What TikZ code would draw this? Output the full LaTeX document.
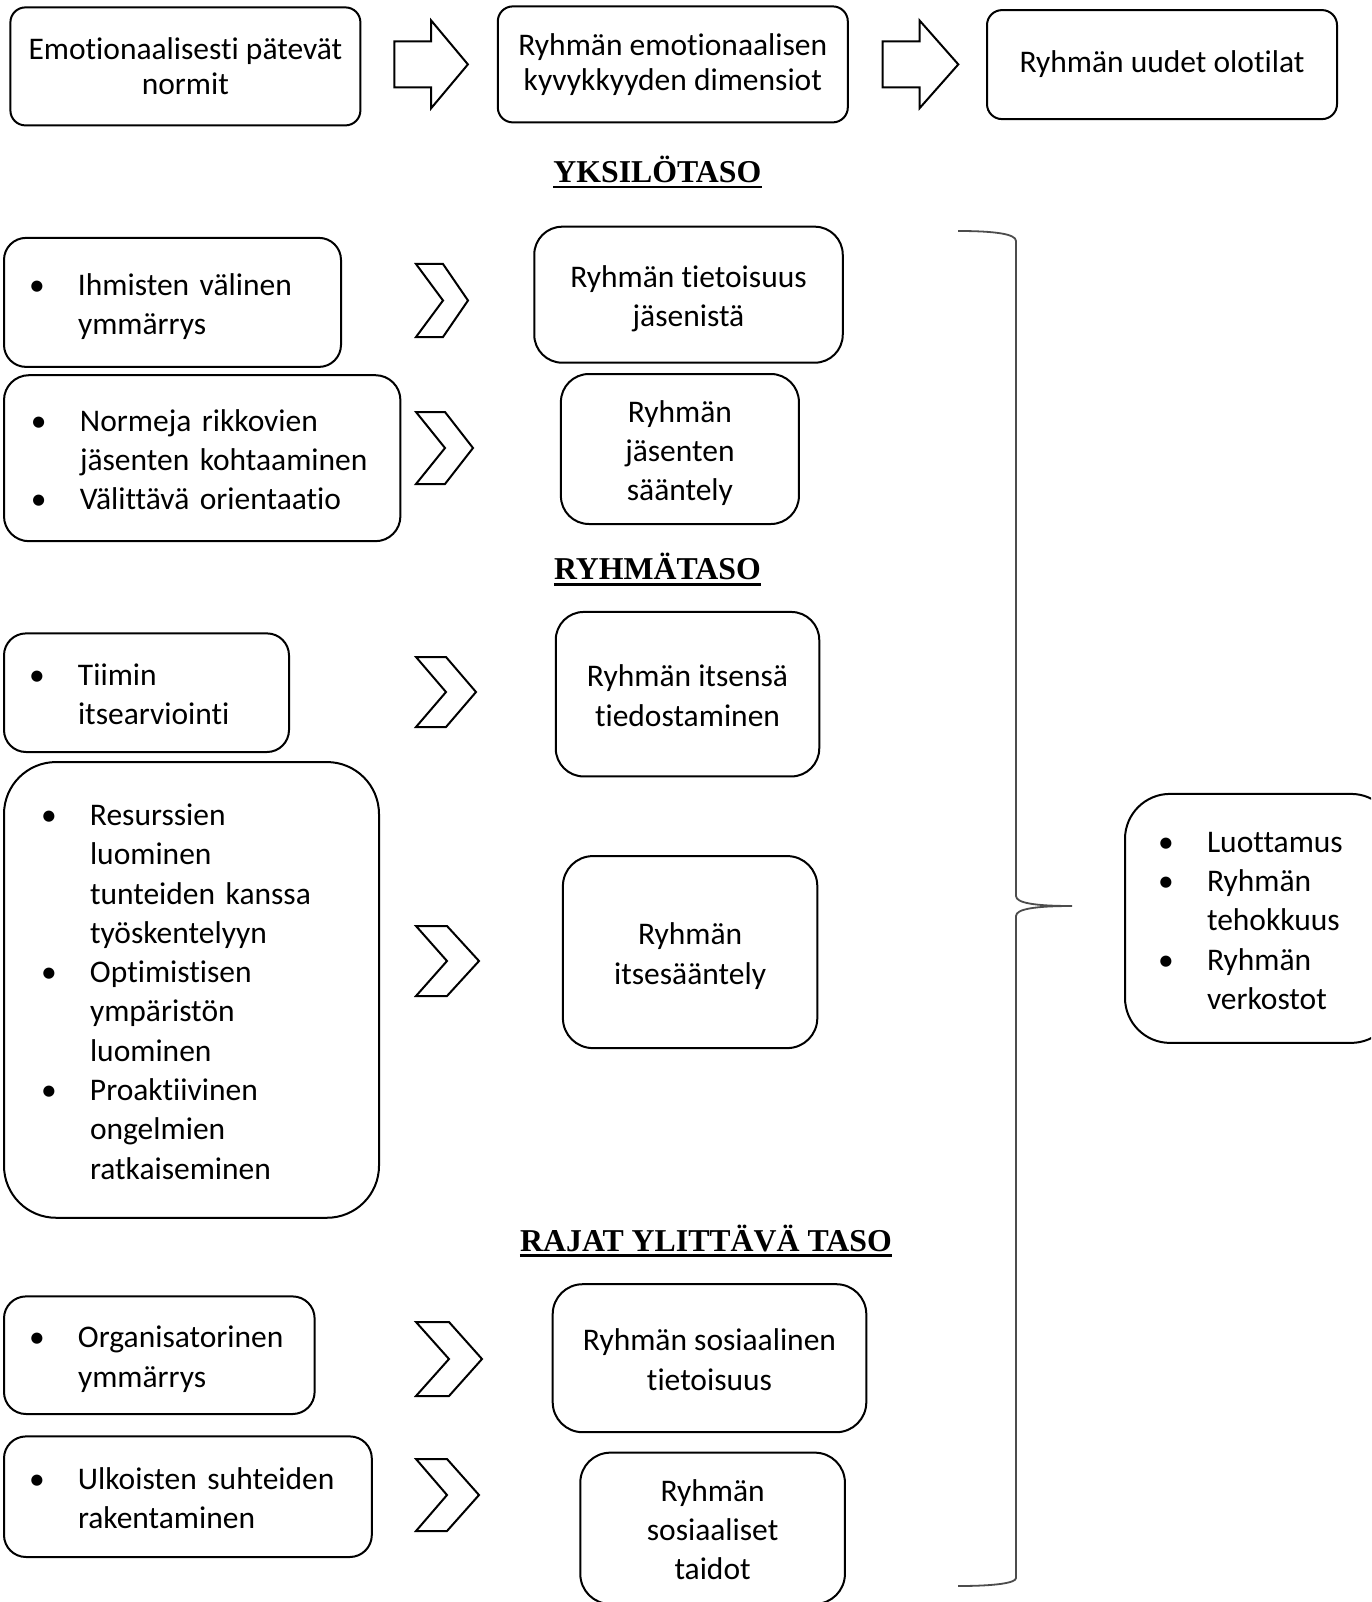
\documentclass[tikz,border=0pt]{standalone}
\usepackage{fontspec}
\setmainfont{Carlito}[Ligatures=NoCommon]
\newfontfamily\headfont{Liberation Serif}
\newcommand{\bodyfont}{\fontsize{31.5}{39.3}\selectfont}
\newcommand{\topfont}{\fontsize{31.5}{34.7}\selectfont}
\newcommand{\headsize}{\headfont\bfseries\fontsize{31.8}{38}\selectfont}
\newcommand{\bl}{\hspace*{-3pt}\textbullet}
\newcommand{\dn}[1]{\raisebox{0pt}[\dimexpr\height+9pt\relax][\depth]{#1}}
\newcommand{\blist}[1]{\dn{\begin{tabular}{@{}p{46pt}@{}l@{}}#1\end{tabular}}}
\newcommand{\ctab}[1]{\dn{\begin{tabular}{@{}c@{}}#1\end{tabular}}}

\begin{document}
\begin{tikzpicture}[x=1pt,y=-1pt]
  \tikzset{box/.style = {draw, line width=2pt, rounded corners=#1, align=center, font=\bodyfont, inner sep=0pt}}
  \tikzset{box/.default=15pt}
  \tikzset{lst/.style = {draw, line width=2pt, rounded corners=#1, align=left, font=\bodyfont, inner ysep=0pt, anchor=west}}
  \tikzset{hd/.style = {font=\headsize, inner sep=0pt, anchor=base}}
  \tikzset{shp/.style = {draw, line width=2pt, line join=miter}}
  \tikzset{brc/.style = {draw=black!70, line width=1.8pt}}

  \useasboundingbox (0,0) rectangle (1371,1602);
  \clip (0,0) rectangle (1371,1602);

  % top row
  \node[box, font=\topfont] (emo) at (185.4,66.4) [minimum width=350pt, minimum height=118pt] {Emotionaalisesti pätevät\\normit};
  \node[box, font=\topfont] (dim) at (672.8,64.4) [minimum width=350pt, minimum height=116pt] {Ryhmän emotionaalisen\\kyvykkyyden dimensiot};
  \node[box, font=\topfont] (new) at (1162,64.6) [minimum width=350pt, minimum height=109pt] {Ryhmän uudet olotilat};
  \foreach \l/\m/\r in {394.3/431.1/467.9, 882.7/919.5/958.3}
  {
    \draw[shp] (\l,41.4) -- (\m,41.4) -- (\m,20.4) -- (\r,64.4) -- (\m,108.3) -- (\m,87.4) -- (\l,87.4) -- cycle;
  }

  % headings
  \node[hd] (yks) at (657.4,182.4) {YKSILÖTASO};
  \node[hd] (ryh) at (657.4,579.8) {RYHMÄTASO};
  \node[hd] (raj) at (706,1251) {RAJAT YLITTÄVÄ TASO};
  \foreach \h in {yks,ryh,raj}
  {
    \draw[line width=2.4pt] ([yshift=-4.5pt]\h.base west) -- ([yshift=-4.5pt]\h.base east);
  }

  % left column
  \node[lst=22pt, text width=281pt, inner xsep=28pt, minimum height=129pt] (ihm) at (3,302.4)
    {\blist{\bl & Ihmisten välinen\\ & ymmärrys}};
  \node[lst=25pt, text width=336.4pt, inner xsep=30pt, minimum height=166pt] (norm) at (3,458.2)
    {\blist{\bl & Normeja rikkovien\\ & jäsenten kohtaaminen\\ \bl & Välittävä orientaatio}};
  \node[lst=22pt, text width=229pt, inner xsep=28pt, minimum height=118.6pt] (tiim) at (3,692.7)
    {\blist{\bl & Tiimin\\ & itsearviointi}};
  \node[lst=52pt, text width=295pt, inner xsep=40pt, minimum height=455.7pt] (res) at (3,989.9)
    {\blist{\bl & Resurssien\\ & luominen\\ & tunteiden kanssa\\ & työskentelyyn\\
     \bl & Optimistisen\\ & ympäristön\\ & luominen\\ \bl & Proaktiivinen\\ & ongelmien\\ & ratkaiseminen}};
  \node[lst=22pt, text width=254.6pt, inner xsep=28pt, minimum height=117.6pt] (org) at (3,1355.2)
    {\blist{\bl & Organisatorinen\\ & ymmärrys}};
  \node[lst=22pt, text width=311.8pt, inner xsep=28pt, minimum height=120.6pt] (ulk) at (3,1496.7)
    {\blist{\bl & Ulkoisten suhteiden\\ & rakentaminen}};

  % chevrons
  \foreach \l/\s/\r/\t/\b in {416/443/468/264/337, 416/445/473/412/484, 416/446/476/657/727,
                              416/447/479/926/996, 416/449/482/1322/1396, 416/447/479/1459/1531}
  {
    \draw[shp] (\l,\t) -- (\s,\t) -- (\r,{(\t+\b)/2}) -- (\s,\b) -- (\l,\b) -- (\s,{(\t+\b)/2}) -- cycle;
  }

  % middle column
  \node[box=28pt] (tiet) at (688.5,294.7) [minimum width=308.5pt, minimum height=136pt] {\ctab{Ryhmän tietoisuus\\jäsenistä}};
  \node[box=28pt] (saan) at (679.9,449) [minimum width=238pt, minimum height=150pt] {\ctab{Ryhmän\\jäsenten\\sääntely}};
  \node[box=28pt] (itse) at (687.5,694.2) [minimum width=263.5pt, minimum height=164.5pt] {\ctab{Ryhmän itsensä\\tiedostaminen}};
  \node[box=30pt] (itsa) at (690.1,952.1) [minimum width=254.4pt, minimum height=192pt] {\ctab{Ryhmän\\itsesääntely}};
  \node[box=30pt] (sost) at (709.5,1358.2) [minimum width=313.6pt, minimum height=148pt] {\ctab{Ryhmän sosiaalinen\\tietoisuus}};
  \node[box=30pt] (taid) at (712.6,1528.3) [minimum width=264.6pt, minimum height=151.3pt] {\ctab{Ryhmän\\sosiaaliset\\taidot}};

  % brace and outcome
  \draw[brc] (958,231) .. controls (995,231) and (1016,234) .. (1016,241) -- (1016,896)
    .. controls (1016,903) and (1035,906) .. (1072,906)
    .. controls (1035,906) and (1016,909) .. (1016,916) -- (1016,1578)
    .. controls (1016,1583) and (995,1586) .. (958,1586);
  \node[lst=45pt, text width=199pt, inner xsep=36pt, minimum height=249pt] (out) at (1124,918.4)
    {\blist{\bl & Luottamus\\ \bl & Ryhmän\\ & tehokkuus\\ \bl & Ryhmän\\ & verkostot}};
\end{tikzpicture}
\end{document}
